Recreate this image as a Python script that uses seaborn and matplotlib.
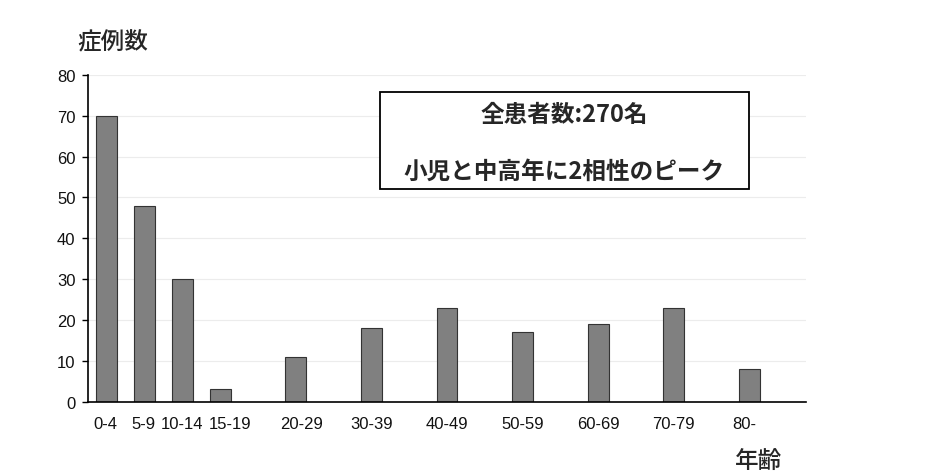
import seaborn as sns
import pandas as pd
import matplotlib.pyplot as plt
from matplotlib.patches import Rectangle
from matplotlib.transforms import ScaledTranslation

# data
age_groups = ['0-4', '5-9', '10-14', '15-19', '20-29', '30-39',
              '40-49', '50-59', '60-69', '70-79', '80-']
counts = [70, 48, 30, 3, 11, 18, 23, 17, 19, 23, 8]
y_label = '症例数'
x_label = '年齢'
note_lines = ['全患者数:270名', '小児と中高年に2相性のピーク']

sns.set_theme(style='white')
plt.rcParams['font.family'] = ['Liberation Sans', 'Noto Sans CJK JP']
jp = ['Noto Sans CJK JP', 'DejaVu Sans']

df = pd.DataFrame({'age': age_groups, 'n': counts})

# the 10-year groups take two slots each, so put an empty slot before them
order = []
for i, g in enumerate(age_groups):
    if i >= 4:
        order.append('_gap%d' % i)
    order.append(g)
order.append('_gap_end')

fig = plt.figure(figsize=(9.34, 4.77), dpi=100)
ax = fig.add_axes([0.0942, 0.1558, 0.7687, 0.685])

sns.barplot(data=df, x='age', y='n', order=order, color='#808080',
            saturation=1, width=0.55, edgecolor='#333333', linewidth=0.8, ax=ax)

ax.set_ylim(0, 80)
ax.set_yticks(range(0, 81, 10))
ax.set_xlim(-0.5, len(order) - 0.5)
ticks = [order.index(g) for g in age_groups]
ax.set_xticks(ticks)
ax.set_xticklabels(age_groups, fontsize=12, color='#111111')
ax.tick_params(axis='y', labelsize=12, length=4, width=1, direction='out', left=True,
               color='black', labelcolor='#111111', pad=5)
ax.tick_params(axis='x', length=0, pad=10)
# nudge the crowded labels apart a little, like the original
for lab, dx in zip(ax.get_xticklabels(), [-2, -1, 0, 10, 6, 0, 0, 0, 0, 0, -5]):
    lab.set_transform(lab.get_transform() + ScaledTranslation(dx / 100, 0, fig.dpi_scale_trans))
ax.yaxis.grid(True, color='#ececec', linewidth=0.8)
ax.set_axisbelow(True)
for s in ['top', 'right']:
    ax.spines[s].set_visible(False)
for s in ['left', 'bottom']:
    ax.spines[s].set_color('black')
    ax.spines[s].set_linewidth(1.2)
ax.set_xlabel('')
ax.set_ylabel('')

fig.text(0.121, 0.910, y_label, ha='center', va='center', fontsize=17, fontweight='medium', family=jp)
fig.text(0.812, 0.030, x_label, ha='center', va='center', fontsize=17, fontweight='medium', family=jp)

ax.add_patch(Rectangle((0.4067, 0.651), 0.5139, 0.297, transform=ax.transAxes,
                       fill=True, facecolor='white', edgecolor='black', linewidth=1.3, zorder=5))
ax.text(0.663, 0.881, note_lines[0], transform=ax.transAxes, ha='center', va='center',
        fontsize=17, fontweight='bold', family=jp, zorder=6)
ax.text(0.663, 0.706, note_lines[1], transform=ax.transAxes, ha='center', va='center',
        fontsize=17, fontweight='bold', family=jp, zorder=6)

fig.savefig('out.png', dpi=100, facecolor='white')
